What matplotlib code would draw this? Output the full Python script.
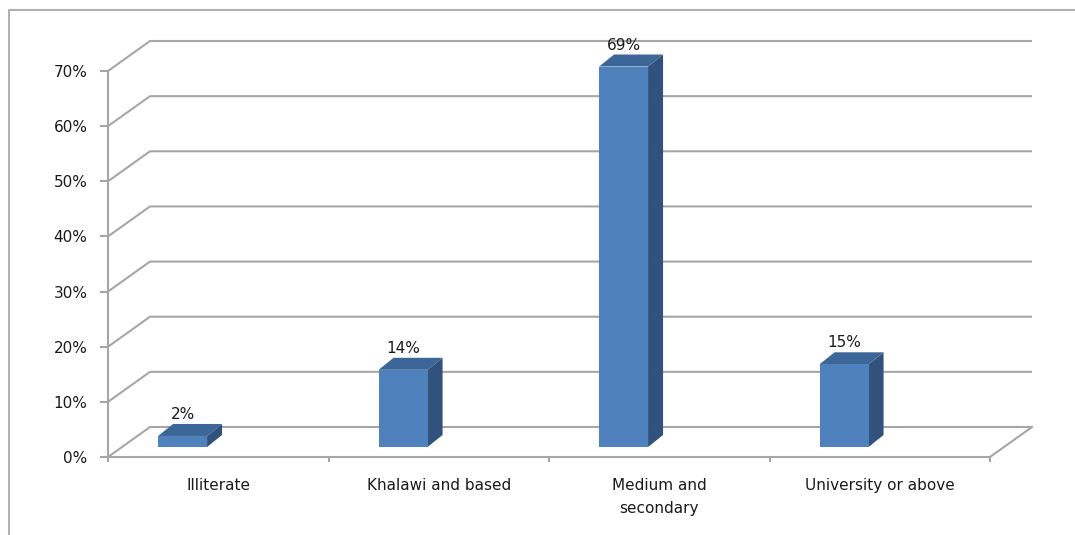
import matplotlib
matplotlib.use('Agg')
import matplotlib.pyplot as plt
from matplotlib.patches import Polygon
from matplotlib.lines import Line2D

categories = ['Illiterate', 'Khalawi and based', 'Medium and\nsecondary', 'University or above']
shares = [0.02, 0.14, 0.69, 0.15]
value_labels = ['2%', '14%', '69%', '15%']
yticks = [0.0, 0.1, 0.2, 0.3, 0.4, 0.5, 0.6, 0.7]
ytick_labels = ['0%', '10%', '20%', '30%', '40%', '50%', '60%', '70%']

W, H = 1075, 535
grid_col = '#a6a6a6'
txt_col = '#1a1a1a'
front_col = '#4f81bd'
side_col = '#30527c'
top_col = '#3c6698'

fig = plt.figure(figsize=(W / 100, H / 100), dpi=100)
fig.patch.set_facecolor('white')

# front plane: x 108..990 px, y 457 (0%) .. 71 (70%) px
ax = fig.add_axes([108 / W, 78 / H, 882 / W, 386 / H])
ax.set_xlim(0, 4)
ax.set_ylim(0, 0.7)
ax.patch.set_alpha(0)

px_x = 882 / 4.0      # pixels per category
px_y = 386 / 0.7      # pixels per unit share

# depth offsets (pixels -> data)
ddx, ddy = 42 / px_x, 30 / px_y      # whole floor depth
fdx, fdy = 14 / px_x, 10 / px_y      # bar front offset
bdx, bdy = 15 / px_x, 12 / px_y      # bar depth

# back wall gridlines with slanted left side
for v in yticks:
    ax.plot([0, ddx, 4 + ddx], [v, v + ddy, v + ddy], color=grid_col,
            lw=1.5, clip_on=False, zorder=1, solid_capstyle='butt')
ax.plot([4, 4 + ddx], [0, ddy], color=grid_col, lw=1.5, clip_on=False, zorder=1)

for s in ['top', 'right']:
    ax.spines[s].set_visible(False)
for s in ['left', 'bottom']:
    ax.spines[s].set_color(grid_col)
    ax.spines[s].set_linewidth(1.5)

ax.set_yticks(yticks)
ax.set_yticklabels(ytick_labels)
ax.tick_params(axis='y', length=8 * 0.72, width=1.5, color=grid_col,
               labelcolor=txt_col, labelsize=11, pad=9)
ax.set_xticks([0, 1, 2, 3, 4])
ax.set_xticklabels([])
ax.tick_params(axis='x', length=5 * 0.72, width=1.5, color=grid_col)

# bars
bar_w = 49 / px_x
for i, v in enumerate(shares):
    l = i + 0.227
    r = l + bar_w
    b = fdy
    t = fdy + v
    side = Polygon([(r, b), (r + bdx, b + bdy), (r + bdx, t + bdy), (r, t)],
                   closed=True, facecolor=side_col, edgecolor='none',
                   zorder=3, clip_on=False)
    top = Polygon([(l, t), (r, t), (r + bdx, t + bdy), (l + bdx, t + bdy)],
                  closed=True, facecolor=top_col, edgecolor='none',
                  zorder=3, clip_on=False)
    front = Polygon([(l, b), (r, b), (r, t), (l, t)], closed=True,
                    facecolor=front_col, edgecolor='none', zorder=4,
                    clip_on=False)
    ax.add_patch(side)
    ax.add_patch(top)
    ax.add_patch(front)
    ax.text((l + r) / 2, t + bdy + 2 / px_y, value_labels[i], ha='center',
            va='bottom', fontsize=11, color=txt_col, clip_on=False, zorder=5)

xt = ax.get_xaxis_transform()
for i, c in enumerate(categories):
    ax.text(i + 0.5, -21 / 386, c, transform=xt, ha='center', va='top',
            fontsize=11, color=txt_col, linespacing=1.65, multialignment='center')

# outer chart frame (partly cut off)
fx = 9 / W
fy = 1 - 10 / H
fig.add_artist(Line2D([fx, fx, 1.0], [0.0, fy, fy], transform=fig.transFigure,
                      color='#b0b0b0', lw=1.5))

fig.savefig('out.png', dpi=100, facecolor='white')
